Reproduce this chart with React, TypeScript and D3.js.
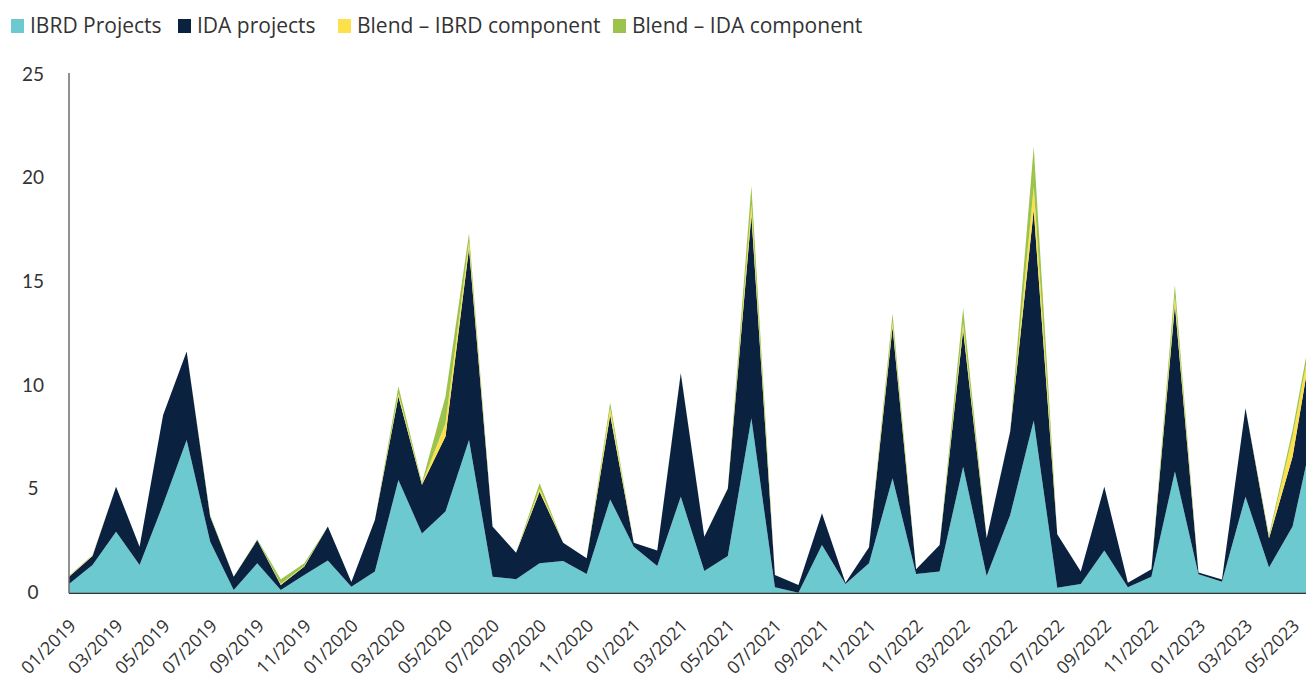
import React from "react";
import * as d3 from "d3";

const months = [
  "01/2019","02/2019","03/2019","04/2019","05/2019","06/2019","07/2019","08/2019","09/2019","10/2019","11/2019","12/2019",
  "01/2020","02/2020","03/2020","04/2020","05/2020","06/2020","07/2020","08/2020","09/2020","10/2020","11/2020","12/2020",
  "01/2021","02/2021","03/2021","04/2021","05/2021","06/2021","07/2021","08/2021","09/2021","10/2021","11/2021","12/2021",
  "01/2022","02/2022","03/2022","04/2022","05/2022","06/2022","07/2022","08/2022","09/2022","10/2022","11/2022","12/2022",
  "01/2023","02/2023","03/2023","04/2023","05/2023","06/2023",
];

const ibrd = [
  0.45, 1.37, 2.97, 1.37, 4.29, 7.4, 2.49, 0.16, 1.45, 0.16, 0.88, 1.58,
  0.32, 1.05, 5.47, 2.89, 3.94, 7.4, 0.8, 0.68, 1.45, 1.56, 0.93, 4.53,
  2.25, 1.32, 4.66, 1.08, 1.8, 8.44, 0.29, 0.03, 2.33, 0.45, 1.45, 5.55,
  0.93, 1.05, 6.11, 0.84, 3.78, 8.33, 0.27, 0.45, 2.06, 0.29, 0.8, 5.87,
  0.92, 0.56, 4.66, 1.25, 3.22, 8.4,
];

const ida = [
  0.35, 0.43, 2.17, 0.88, 4.31, 4.26, 1.21, 0.64, 1.12, 0.24, 0.41, 1.64,
  0.23, 2.49, 4.02, 2.34, 3.62, 9.24, 2.42, 1.28, 3.45, 0.88, 0.76, 4.07,
  0.19, 0.74, 5.95, 1.65, 3.26, 9.8, 0.59, 0.37, 1.53, 0.06, 0.77, 7.3,
  0.23, 1.28, 6.59, 1.81, 4.02, 10.16, 2.58, 0.6, 3.08, 0.22, 0.36, 8.04,
  0.08, 0.1, 4.26, 1.4, 3.37, 4.9,
];

const blendIbrd = [
  0.02, 0.02, 0, 0, 0, 0, 0.03, 0, 0.02, 0.05, 0.04, 0,
  0, 0, 0.15, 0.05, 0.64, 0.32, 0, 0, 0.16, 0, 0, 0.32,
  0, 0, 0, 0, 0, 0.5, 0, 0, 0, 0, 0, 0.25,
  0, 0, 0.32, 0, 0, 1.12, 0, 0, 0, 0, 0, 0.4,
  0, 0, 0, 0.06, 0.97, 0.3,
];

const blendIda = [
  0.03, 0.03, 0, 0, 0, 0, 0.05, 0, 0.03, 0.23, 0.12, 0,
  0, 0, 0.33, 0.06, 1.29, 0.4, 0, 0, 0.25, 0, 0, 0.28,
  0, 0, 0.03, 0, 0.02, 0.9, 0, 0, 0, 0, 0, 0.4,
  0, 0, 0.73, 0, 0.03, 1.93, 0, 0, 0, 0, 0, 0.56,
  0, 0, 0, 0.1, 0.32, 0.4,
];

const seriesNames = ["IBRD Projects", "IDA projects", "Blend – IBRD component", "Blend – IDA component"];
const seriesColors = ["#6bc9cf", "#0a2240", "#fde04b", "#9cc34b"];
const yTicks = [0, 5, 10, 15, 20, 25];

const W = 1306;
const H = 682;
const x0 = 69;
const step = 23.53;
const yBase = 593.3;
const yTop = 75;

export default function App() {
  const keys = ["ibrd", "ida", "bibrd", "bida"];
  const rows = months.map((m, i) => ({
    m,
    i,
    ibrd: ibrd[i],
    ida: ida[i],
    bibrd: blendIbrd[i],
    bida: blendIda[i],
  }));
  const stack = d3.stack<any>().keys(keys);
  const layers = stack(rows);

  const x = d3.scaleLinear().domain([0, months.length - 1]).range([x0, x0 + step * (months.length - 1)]);
  const y = d3.scaleLinear().domain([0, 25]).range([yBase, yTop]);

  const area = d3
    .area<any>()
    .x((d: any) => x(d.data.i))
    .y0((d: any) => y(d[0]))
    .y1((d: any) => y(d[1]))
    .curve(d3.curveLinear);

  const tickIdx = months.map((_, i) => i).filter((i) => i % 2 === 0 && i <= 52);

  const legendX = [11, 178, 338, 613];

  return (
    <div style={{ position: "absolute", left: 0, top: 0, width: W, height: H, overflow: "hidden" }}>
      <svg width={W} height={H} style={{ display: "block" }}>
        <rect x={0} y={0} width={W} height={H} fill="#ffffff" />
        {layers.map((layer, li) => (
          <path key={li} d={area(layer as any) || ""} fill={seriesColors[li]} />
        ))}
        <line x1={x0} x2={W} y1={yBase} y2={yBase} stroke="#333" strokeWidth={1.2} />
        <line x1={x0} x2={x0} y1={73} y2={yBase} stroke="#6b6b6b" strokeWidth={1.5} />
        {yTicks.map((t) => (
          <text
            key={t}
            x={33}
            y={y(t) + 1}
            textAnchor="middle"
            dominantBaseline="middle"
            fontFamily="Lato, 'Open Sans', sans-serif"
            fontSize={19}
            fill="#333"
          >
            {t}
          </text>
        ))}
        {tickIdx.map((i) => (
          <text
            key={i}
            transform={`translate(${x(i) + 8},${627}) rotate(-45)`}
            textAnchor="end"
            fontFamily="'Open Sans', sans-serif"
            fontSize={18}
            fill="#333"
          >
            {months[i]}
          </text>
        ))}
        {seriesNames.map((n, i) => (
          <g key={n} transform={`translate(${legendX[i]},0)`}>
            <rect x={0} y={19} width={13} height={14} fill={seriesColors[i]} />
            <text x={19} y={33} fontFamily="'Open Sans', sans-serif" fontSize={21} fill="#333">
              {n}
            </text>
          </g>
        ))}
      </svg>
    </div>
  );
}
